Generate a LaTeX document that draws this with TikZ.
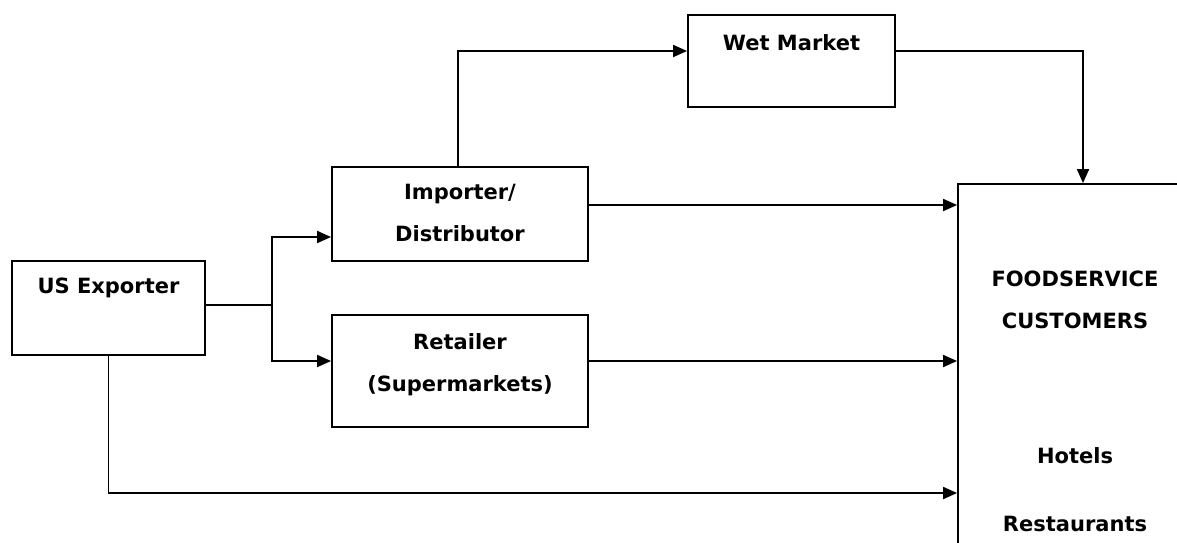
\documentclass[tikz,border=0pt]{standalone}
\usepackage{fontspec}
\setmainfont{DejaVu Sans}
\usetikzlibrary{arrows.meta}
\begin{document}
\begin{tikzpicture}
	[x=1pt,y=-1pt,box/.style={rectangle,draw,line width=1.8pt,inner sep=0pt},
	txt/.style={font=\bfseries\fontsize{21}{42}\selectfont,align=center,inner sep=0pt},
	>={Triangle[length=14pt,width=12pt]}]
	\path[use as bounding box,clip](0,0)rectangle(1177,542);
	\node[box,name=exp,minimum width=193pt,minimum height=94pt,label={[txt,yshift=20pt]center:US Exporter}]at(108.5,308){};
	\node[box,name=imp,minimum width=256pt,minimum height=94pt,label={[txt,yshift=1pt]center:{Importer/\\Distributor}}]at(460,214){};
	\node[box,name=ret,minimum width=256pt,minimum height=112pt,label={[txt,yshift=6pt]center:{Retailer\\(Supermarkets)}}]at(460,371){};
	\node[box,name=wet,minimum width=207pt,minimum height=92pt,label={[txt,yshift=18pt]center:Wet Market}]at(791.5,61){};
	\node[box,name=food,minimum width=234pt,minimum height=416pt,label={[txt,anchor=north,yshift=-87.5pt]north:{FOODSERVICE\\CUSTOMERS\\[93pt]Hotels\\[26pt]Restaurants}}]at(1075,392){};
	\coordinate(fork)at(272,305);
	\draw[line width=1.8pt](exp.east|-fork)--(fork);
	\draw[->,line width=1.8pt](fork)|-([yshift=-23pt]imp.west);
	\draw[->,line width=1.8pt](fork)|-([yshift=10pt]ret.west);
	\draw[->,line width=1.8pt]([xshift=-2pt]imp.north)|-([yshift=10pt]wet.west);
	\draw[->,line width=1.8pt]([yshift=10pt]wet.east)-|([xshift=8pt]food.north);
	\draw[->,line width=1.8pt]([yshift=9pt]imp.east)--([yshift=9pt]imp.east-|food.west);
	\draw[->,line width=1.8pt]([yshift=10pt]ret.east)--([yshift=10pt]ret.east-|food.west);
	\draw[->,line width=1.8pt](exp.south)|-([yshift=-101pt]food.west);
\end{tikzpicture}
\end{document}
